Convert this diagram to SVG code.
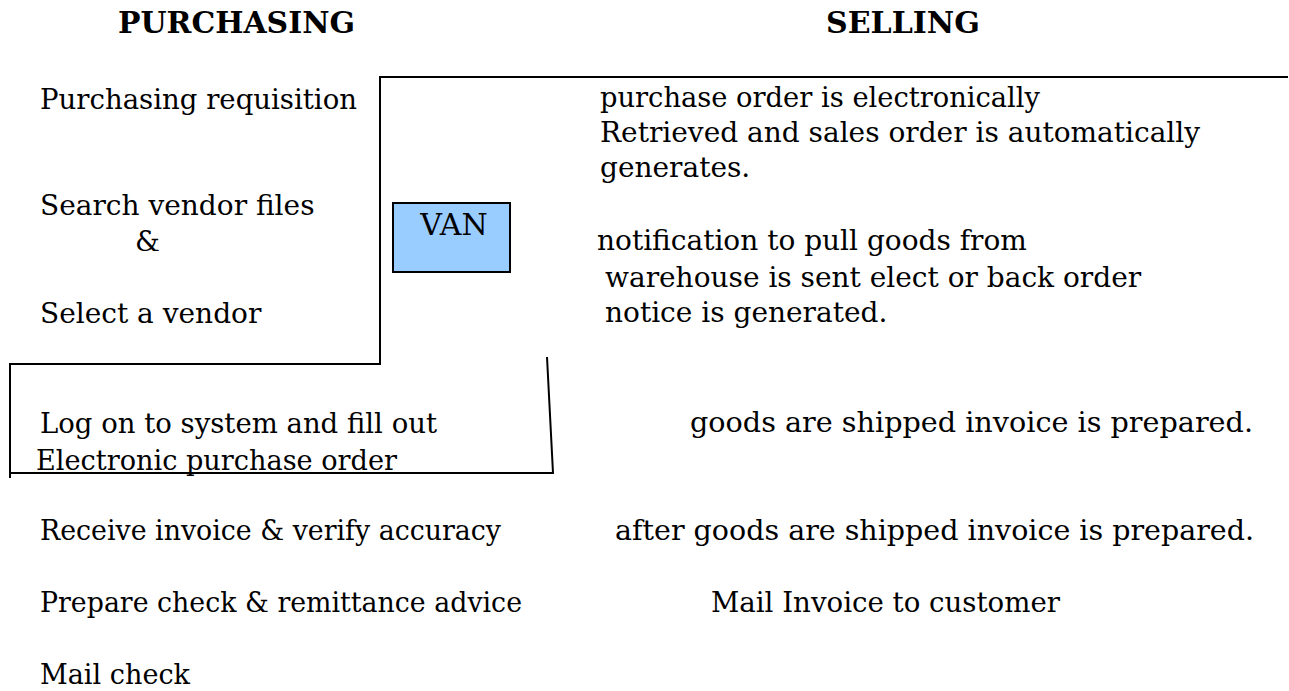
<svg xmlns="http://www.w3.org/2000/svg" width="1289" height="691" viewBox="0 0 1289 691">
<style>
.t{font-family:"DejaVu Serif","Liberation Serif",serif;font-size:28px;fill:#000}
.h{font-family:"DejaVu Serif","Liberation Serif",serif;font-size:30px;font-weight:bold;fill:#000}
.ln{stroke:#000;stroke-width:2;fill:none}
</style>
<rect width="1289" height="691" fill="#fff"/>
<g id="headers">
<text class="h" x="118" y="33" textLength="237" lengthAdjust="spacingAndGlyphs">PURCHASING</text>
<text class="h" x="826" y="33">SELLING</text>
</g>
<g id="connectors">
<polyline class="ln" points="1288,77 380,77 380,364 10,364 10,478"/>
<polyline class="ln" points="10,473 553,473 547,357"/>
</g>
<g id="van">
<rect x="393" y="203" width="117" height="69" fill="#99CCFF" stroke="#000" stroke-width="2"/>
<text class="t" x="454" y="235" text-anchor="middle" style="font-size:30px">VAN</text>
</g>
<g id="purchasing">
<text class="t" x="40" y="109" textLength="317" lengthAdjust="spacingAndGlyphs">Purchasing requisition</text>
<text class="t" x="40" y="215">Search vendor files</text>
<text class="t" x="135" y="251">&amp;</text>
<text class="t" x="40" y="323">Select a vendor</text>
<text class="t" x="40" y="433" textLength="397" lengthAdjust="spacingAndGlyphs">Log on to system and fill out</text>
<text class="t" x="36" y="470" textLength="361" lengthAdjust="spacingAndGlyphs">Electronic purchase order</text>
<text class="t" x="40" y="540" textLength="461" lengthAdjust="spacingAndGlyphs">Receive invoice &amp; verify accuracy</text>
<text class="t" x="40" y="612" textLength="482" lengthAdjust="spacingAndGlyphs">Prepare check &amp; remittance advice</text>
<text class="t" x="40" y="684" textLength="150" lengthAdjust="spacingAndGlyphs">Mail check</text>
</g>
<g id="selling">
<text class="t" x="600" y="107" textLength="440" lengthAdjust="spacingAndGlyphs">purchase order is electronically</text>
<text class="t" x="600" y="142">Retrieved and sales order is automatically</text>
<text class="t" x="600" y="177">generates.</text>
<text class="t" x="597" y="250">notification to pull goods from</text>
<text class="t" x="605" y="287">warehouse is sent elect or back order</text>
<text class="t" x="605" y="322">notice is generated.</text>
<text class="t" x="690" y="432" textLength="563" lengthAdjust="spacingAndGlyphs">goods are shipped invoice is prepared.</text>
<text class="t" x="615" y="540" textLength="639" lengthAdjust="spacingAndGlyphs">after goods are shipped invoice is prepared.</text>
<text class="t" x="711" y="612" textLength="349" lengthAdjust="spacingAndGlyphs">Mail Invoice to customer</text>
</g>
</svg>
